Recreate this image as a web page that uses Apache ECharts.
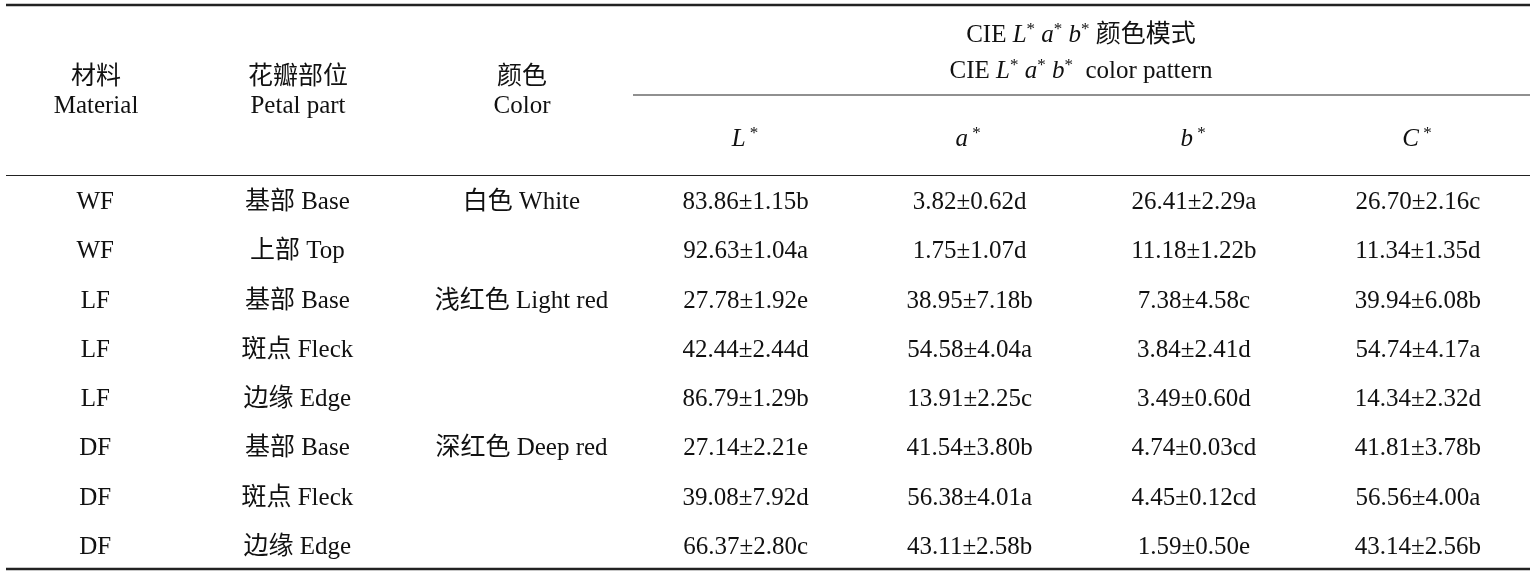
<!DOCTYPE html>
<html><head><meta charset="utf-8">
<script src="https://cdn.jsdelivr.net/npm/echarts@6/dist/echarts.min.js"></script>
<style>html,body{margin:0;padding:0;background:#fff}#c{width:1537px;height:576px}</style>
</head><body><div id="c"></div>
<script>
const columns = ['材料 Material','花瓣部位 Petal part','颜色 Color','L*','a*','b*','C*'];
const rowIds = ['1','2','3','4','5','6','7','8'];
const materials = ['WF','WF','LF','LF','LF','DF','DF','DF'];
const parts = ['基部 Base','上部 Top','基部 Base','斑点 Fleck','边缘 Edge','基部 Base','斑点 Fleck','边缘 Edge'];
const colorNames = ['白色 White','','浅红色 Light red','','','深红色 Deep red','',''];
const Lmean = [83.86,92.63,27.78,42.44,86.79,27.14,39.08,66.37];
const Lsd   = [1.15,1.04,1.92,2.44,1.29,2.21,7.92,2.80];
const Lsig  = ['b','a','e','d','b','e','d','c'];
const aMean = [3.82,1.75,38.95,54.58,13.91,41.54,56.38,43.11];
const aSd   = [0.62,1.07,7.18,4.04,2.25,3.80,4.01,2.58];
const aSig  = ['d','d','b','a','c','b','a','b'];
const bMean = [26.41,11.18,7.38,3.84,3.49,4.74,4.45,1.59];
const bSd   = [2.29,1.22,4.58,2.41,0.60,0.03,0.12,0.50];
const bSig  = ['a','b','c','d','d','cd','cd','e'];
const cMean = [26.70,11.34,39.94,54.74,14.34,41.81,56.56,43.14];
const cSd   = [2.16,1.35,6.08,4.17,2.32,3.78,4.00,2.56];
const cSig  = ['c','d','b','a','d','b','a','b'];

const FONT = '"Liberation Serif","Times New Roman","Noto Sans CJK SC",serif';
const FS = 25;
const INK = '#111';

function fmt(m, s, g){ return m.map((v,i)=> v.toFixed(2)+'±'+s[i].toFixed(2)+g[i]); }
const colTexts = [
  materials, parts, colorNames,
  fmt(Lmean,Lsd,Lsig), fmt(aMean,aSd,aSig), fmt(bMean,bSd,bSig), fmt(cMean,cSd,cSig)
];

const series = colTexts.map((texts, ci) => ({
  type: 'scatter',
  symbolSize: 0,
  silent: true,
  itemStyle: {opacity: 1},
  data: texts.map((t, ri) => [ci, ri, t]).filter(d => d[2] !== ''),
  label: {
    show: true, position: 'inside',
    offset: ci === 0 ? [22, 3] : [0, 3],
    formatter: p => p.value[2],
    color: INK, fontFamily: FONT, fontSize: FS, opacity: 1
  }
}));

const rich = {
  n: {fontFamily: FONT, fontSize: FS, color: INK},
  i: {fontFamily: FONT, fontSize: FS, color: INK, fontStyle: 'italic'},
  s: {fontFamily: FONT, fontSize: 17, color: INK, padding: [0,0,10,0]}
};
function txt(x, y, text, r){
  return {type:'text', x:x, y:y, silent:true,
    style:{text:text, rich:r?rich:undefined, fill:INK, font: FS+'px '+FONT,
      align:'center', verticalAlign:'middle'}};
}
function line(x1,y1,x2,y2,w){
  return {type:'line', silent:true, shape:{x1,y1,x2,y2}, style:{stroke:'#222', lineWidth:w}};
}
const graphic = [
  line(6,5,1530,5,2.6),
  line(633,95,1530,95,1.2),
  line(6,175.5,1530,175.5,1.2),
  line(6,569,1530,569,2.6),
  txt(96,77,'材料'), txt(96,106,'Material'),
  txt(298,77,'花瓣部位'), txt(298,106,'Petal part'),
  txt(522,77,'颜色'), txt(522,106,'Color'),
  txt(1081,35,'{n|CIE }{i|L}{s|*}{n| }{i|a}{s|*}{n| }{i|b}{s|*}{n| 颜色模式}', true),
  txt(1081,71,'{n|CIE }{i|L}{s|*}{n| }{i|a}{s|*}{n| }{i|b}{s|*}{n|  color pattern}', true),
  txt(745,139,'{i|L}{s| *}', true),
  txt(968,139,'{i|a}{s| *}', true),
  txt(1193,139,'{i|b}{s| *}', true),
  txt(1417,139,'{i|C}{s| *}', true)
];

const chart = echarts.init(document.getElementById('c'));
chart.setOption({
  backgroundColor: '#fff',
  animation: false,
  grid: {left: 6, right: 7, top: 175, bottom: 7},
  xAxis: {type:'value', min: -0.3, max: 6.5, show: false},
  yAxis: {type:'category', data: rowIds, inverse: true, show: false},
  series: series,
  graphic: graphic
});
</script></body></html>
